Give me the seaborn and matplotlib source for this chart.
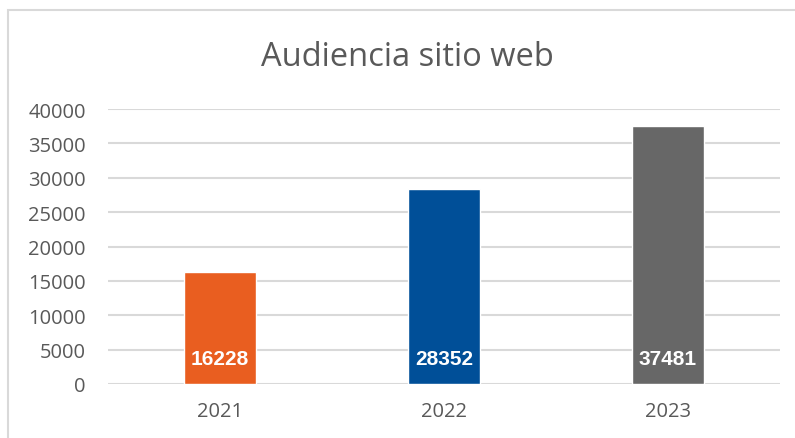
import seaborn as sns
import matplotlib.pyplot as plt
import pandas as pd
from matplotlib.patches import Rectangle

# Datos
years = ['2021', '2022', '2023']
visits = [16228, 28352, 37481]
colors = ['#E95E20', '#004F98', '#676767']

df = pd.DataFrame({'year': years, 'visits': visits})

sns.set_style("white")
plt.rcParams['font.family'] = ['Open Sans', 'DejaVu Sans']

fig = plt.figure(figsize=(7.95, 4.39), dpi=100)
ax = fig.add_axes([108 / 795, 1 - 385 / 439, 672 / 795, 275 / 439])

sns.barplot(data=df, x='year', y='visits', hue='year', palette=colors,
            width=0.32, legend=False, ax=ax, saturation=1)

ax.set_ylim(0, 40000)
ax.set_yticks(range(0, 40001, 5000))
ax.yaxis.grid(True, color='#D9D9D9', linewidth=1.5)
ax.set_axisbelow(True)
for s in ax.spines.values():
    s.set_visible(False)
ax.set_xlabel('')
ax.set_ylabel('')
ax.tick_params(axis='both', length=0, labelsize=14.5, labelcolor='#595959')
ax.tick_params(axis='x', pad=12)
ax.tick_params(axis='y', pad=16)

# etiquetas de valor
for bar, v in zip(ax.patches, visits):
    ax.annotate(str(v), (bar.get_x() + bar.get_width() / 2, 0),
                xytext=(0, 25), textcoords='offset pixels',
                ha='center', va='center', color='white', fontsize=15,
                fontweight='bold', family=['Liberation Sans', 'DejaVu Sans'])

fig.text(407 / 795, 1 - 57 / 439, 'Audiencia sitio web', ha='center', va='center',
         fontsize=23.5, color='#595959')

# borde del gráfico
fig.patches.append(Rectangle((8 / 795, -0.1), 1.2, 1 - 11 / 439 + 0.1,
                             transform=fig.transFigure, fill=False,
                             edgecolor='#D9D9D9', linewidth=1.5))

fig.savefig('out.png', dpi=100)
